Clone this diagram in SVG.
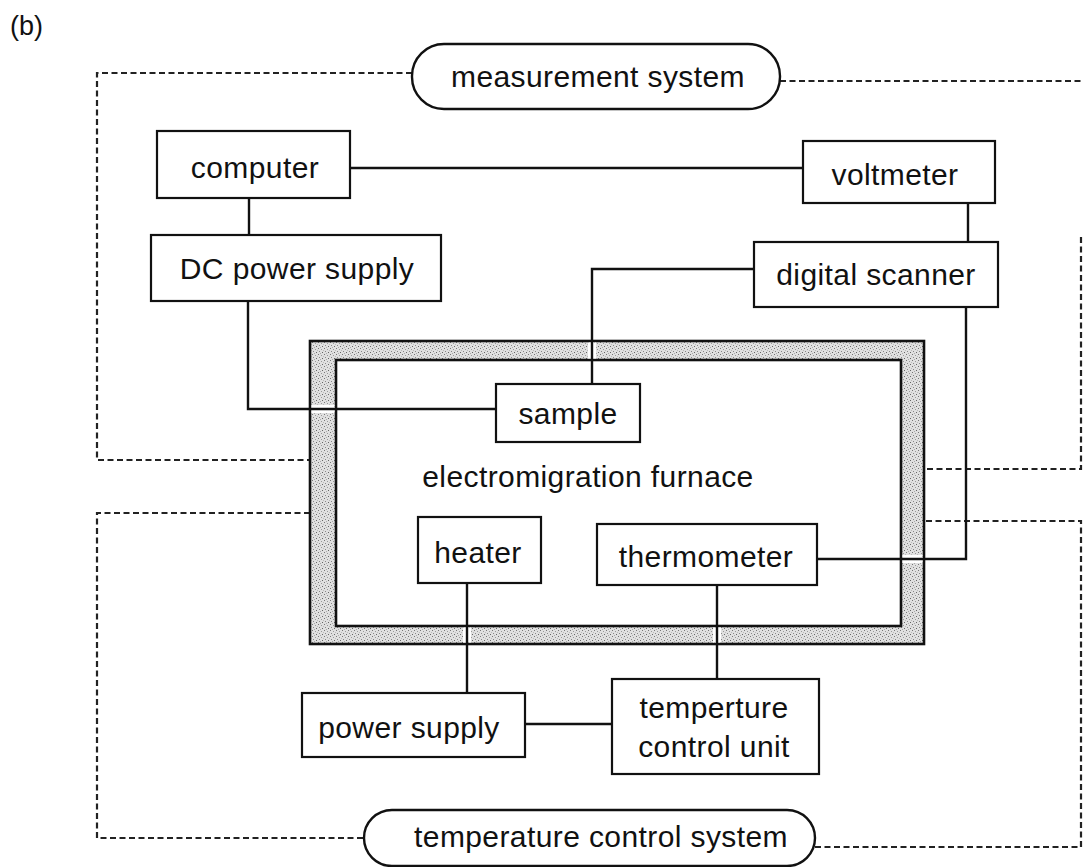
<svg xmlns="http://www.w3.org/2000/svg" width="1083" height="867" viewBox="0 0 1083 867">
<style>
.box{fill:#fff;stroke:#111;stroke-width:2.2}
.pill{fill:#fff;stroke:#111;stroke-width:2.4}
.t{font-family:"Liberation Sans",Arial,sans-serif;font-size:30px;fill:#111;text-anchor:middle;letter-spacing:0.4px}
.wire{fill:none;stroke:#111;stroke-width:2.4}
.dash{fill:none;stroke:#222;stroke-width:2.2;stroke-dasharray:6 3.5}
</style>
<defs>
<pattern id="stip" width="6" height="6" patternUnits="userSpaceOnUse">
<rect width="6" height="6" fill="#e0e0e0"/>
<rect x="0" y="0" width="1" height="1" fill="#777"/>
<rect x="3" y="1" width="1" height="1" fill="#999"/>
<rect x="1" y="3" width="1" height="1" fill="#888"/>
<rect x="4" y="4" width="1" height="1" fill="#666"/>
<rect x="2" y="5" width="1" height="1" fill="#aaa"/>
<rect x="5" y="2" width="1" height="1" fill="#bbb"/>
</pattern>
</defs>
<text x="10" y="35" style="font-family:'Liberation Sans',Arial,sans-serif;font-size:27px;fill:#111">(b)</text>

<g id="system-boundaries">
<path class="dash" d="M412 73 H97 V460 H310"/>
<path class="dash" d="M780 81 H1083"/>
<path class="dash" d="M1081 237 V469 H924"/>
<path class="dash" d="M310 513 H97 V838 H364"/>
<path class="dash" d="M815 847 H1081 V521 H924"/>
</g>

<g id="furnace">
<rect x="310" y="341" width="614" height="303" fill="url(#stip)" stroke="#111" stroke-width="2.6"/>
<rect x="336" y="360" width="565" height="266" fill="#fff" stroke="#111" stroke-width="2.6"/>
<rect x="311.5" y="405" width="23" height="8" fill="#fff"/>
<rect x="588" y="342.5" width="8" height="16" fill="#fff"/>
<rect x="902.5" y="555" width="20" height="8" fill="#fff"/>
<rect x="463" y="627.5" width="8" height="15" fill="#fff"/>
<rect x="713" y="627.5" width="8" height="15" fill="#fff"/>
<text class="t" x="588" y="487">electromigration furnace</text>
</g>

<g id="connectors">
<path class="wire" d="M350 168 H803"/>
<path class="wire" d="M249 198 V235"/>
<path class="wire" d="M248 301 V409 H496"/>
<path class="wire" d="M968 203 V242"/>
<path class="wire" d="M754 269 H592 V384"/>
<path class="wire" d="M966 307 V559 H817"/>
<path class="wire" d="M467 583 V693"/>
<path class="wire" d="M717 585 V679"/>
<path class="wire" d="M525 724 H612"/>
</g>

<g id="measurement-system">
<rect class="pill" x="412" y="44" width="368" height="65" rx="32" ry="32"/>
<text class="t" x="598" y="87">measurement system</text>
</g>
<g id="computer">
<rect class="box" x="157" y="131" width="193" height="67"/>
<text class="t" x="255" y="178">computer</text>
</g>
<g id="dc-power-supply">
<rect class="box" x="151" y="235" width="290" height="66"/>
<text class="t" x="297" y="279">DC power supply</text>
</g>
<g id="voltmeter">
<rect class="box" x="803" y="141" width="192" height="62"/>
<text class="t" x="895" y="185">voltmeter</text>
</g>
<g id="digital-scanner">
<rect class="box" x="754" y="242" width="244" height="65"/>
<text class="t" x="876" y="285">digital scanner</text>
</g>
<g id="sample">
<rect class="box" x="496" y="384" width="144" height="58"/>
<text class="t" x="568" y="424">sample</text>
</g>
<g id="heater">
<rect class="box" x="418" y="517" width="123" height="66"/>
<text class="t" x="478" y="563">heater</text>
</g>
<g id="thermometer">
<rect class="box" x="597" y="524" width="220" height="61"/>
<text class="t" x="706" y="567">thermometer</text>
</g>
<g id="power-supply">
<rect class="box" x="302" y="693" width="223" height="64"/>
<text class="t" x="409" y="738">power supply</text>
</g>
<g id="temperature-control-unit">
<rect class="box" x="612" y="679" width="207" height="95"/>
<text class="t" x="714" y="718">temperture</text>
<text class="t" x="714" y="757">control unit</text>
</g>
<g id="temperature-control-system">
<rect class="pill" x="364" y="810" width="451" height="56" rx="28" ry="28"/>
<text class="t" x="601" y="847">temperature control system</text>
</g>
</svg>
